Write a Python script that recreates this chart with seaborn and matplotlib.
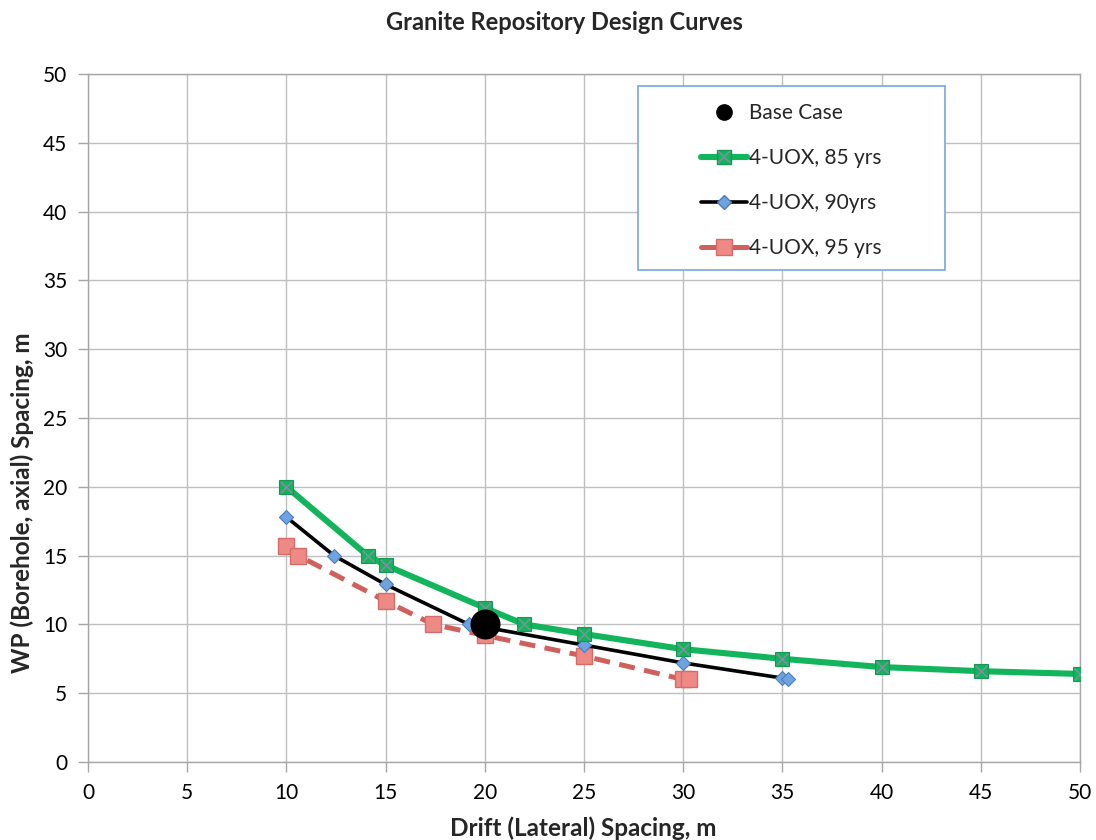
import matplotlib
matplotlib.use("Agg")
import matplotlib.pyplot as plt
import pandas as pd
import seaborn as sns
from matplotlib.patches import Rectangle
from matplotlib.lines import Line2D
from matplotlib.legend_handler import HandlerTuple

# Base case design point
base_x = [20]
base_y = [10]

# Design curves: drift spacing (x) vs. WP spacing (y)
uox85_x = [10, 14.1, 15, 20, 22, 25, 30, 35, 40, 45, 50]
uox85_y = [20, 15, 14.3, 11.2, 10, 9.3, 8.2, 7.5, 6.9, 6.6, 6.4]

uox90_x = [10, 12.4, 15, 19.2, 25, 30, 35, 35.3]
uox90_y = [17.8, 15, 12.9, 10, 8.5, 7.2, 6.1, 6.0]

uox95_x = [10, 10.6, 15, 17.4, 20, 25, 30, 30.3]
uox95_y = [15.7, 15, 11.7, 10, 9.2, 7.7, 6.0, 6.0]

x_ticks = list(range(0, 51, 5))
y_ticks = list(range(0, 51, 5))

sns.set_style("whitegrid")
plt.rcParams["font.family"] = ["Lato", "DejaVu Sans"]

fig = plt.figure(figsize=(10.96, 8.40), dpi=100)
ax = fig.add_axes([88 / 1096, 1 - 762 / 840, 992 / 1096, 688 / 840])

df85 = pd.DataFrame({"x": uox85_x, "y": uox85_y})
df90 = pd.DataFrame({"x": uox90_x, "y": uox90_y})
df95 = pd.DataFrame({"x": uox95_x, "y": uox95_y})
dfb = pd.DataFrame({"x": base_x, "y": base_y})

green = "#12B45C"
red_line = "#D0605C"
red_fill = "#EE8A86"

# 95 yrs: dashed red with square markers
sns.lineplot(data=df95, x="x", y="y", sort=False, ax=ax, color=red_line,
             lw=3.6, linestyle=(0, (3.2, 1.9)), marker="s", markersize=11,
             markerfacecolor=red_fill, markeredgecolor="#D66B67",
             markeredgewidth=1, zorder=3)

# 90 yrs: black with blue diamonds
sns.lineplot(data=df90, x="x", y="y", sort=False, ax=ax, color="black",
             lw=2.6, marker="D", markersize=7.5,
             markerfacecolor="#6FA3E0", markeredgecolor="#4A7EBB",
             markeredgewidth=0.8, zorder=4)

# 85 yrs: thick green with crossed squares
sns.lineplot(data=df85, x="x", y="y", sort=False, ax=ax, color=green,
             lw=4.4, marker="s", markersize=10, markerfacecolor=green,
             markeredgecolor="#119B50", markeredgewidth=0.8, zorder=5)
sns.scatterplot(data=df85, x="x", y="y", ax=ax, marker="x", s=70,
                color="#7F8FA0", linewidth=1.2, zorder=6)

# Base case point
sns.scatterplot(data=dfb, x="x", y="y", ax=ax, s=400, color="black",
                edgecolor="black", zorder=7)

ax.set_xlim(0, 50)
ax.set_ylim(0, 50)
ax.set_xticks(x_ticks)
ax.set_yticks(y_ticks)
ax.tick_params(axis="both", which="major", labelsize=15, length=7,
               width=1, color="#A6A6A6", pad=8, bottom=True, left=True,
               labelcolor="black")
ax.grid(True, color="#BFBFBF", lw=1)
for s in ax.spines.values():
    s.set_color("#A6A6A6")
    s.set_linewidth(1)
ax.set_axisbelow(True)

ax.set_xlabel("Drift (Lateral) Spacing, m", fontsize=17.5, fontweight="bold",
              va="center")
ax.xaxis.set_label_coords(0.499, -(828 - 762) / 688)
ax.set_ylabel("WP (Borehole, axial) Spacing, m", fontsize=17.5,
              fontweight="bold", va="center")
ax.yaxis.set_label_coords((22 - 88) / 992, (762 - 503) / 688)
fig.text(0.5 * (385 + 743) / 1096, 1 - 22 / 840,
         "Granite Repository Design Curves", ha="center", va="center",
         fontsize=17, fontweight="bold")

# Legend box
box = Rectangle((0.5544, 0.7151), 0.8639 - 0.5544, 0.9826 - 0.7151,
                transform=ax.transAxes, facecolor="white",
                edgecolor="#79A6D8", lw=1.2, zorder=8)
ax.add_patch(box)

h_base = Line2D([], [], ls="none", marker="o", markersize=11, color="black")
h85_line = Line2D([], [], color=green, lw=4.4, marker="s", markersize=10,
                  markerfacecolor=green, markeredgecolor="#119B50")
h85_x = Line2D([], [], ls="none", marker="x", markersize=8,
               color="#7F8FA0", markeredgewidth=1.2)
h90 = Line2D([], [], color="black", lw=2.6, marker="D", markersize=7.5,
             markerfacecolor="#6FA3E0", markeredgecolor="#4A7EBB")
h95 = Line2D([], [], color=red_line, lw=3.6, marker="s", markersize=11,
             markerfacecolor=red_fill, markeredgecolor="#D66B67")
leg = ax.legend([h_base, (h85_line, h85_x), h90, h95],
                ["Base Case", "4-UOX, 85 yrs", "4-UOX, 90yrs", "4-UOX, 95 yrs"],
                handler_map={tuple: HandlerTuple(ndivide=1)},
                loc="center", bbox_to_anchor=(0.7087, 0.8445),
                frameon=False, fontsize=15, handlelength=2.2,
                handletextpad=0.1, labelspacing=1.2, borderpad=0)
leg.set_zorder(9)

fig.savefig("out.png", dpi=100)
